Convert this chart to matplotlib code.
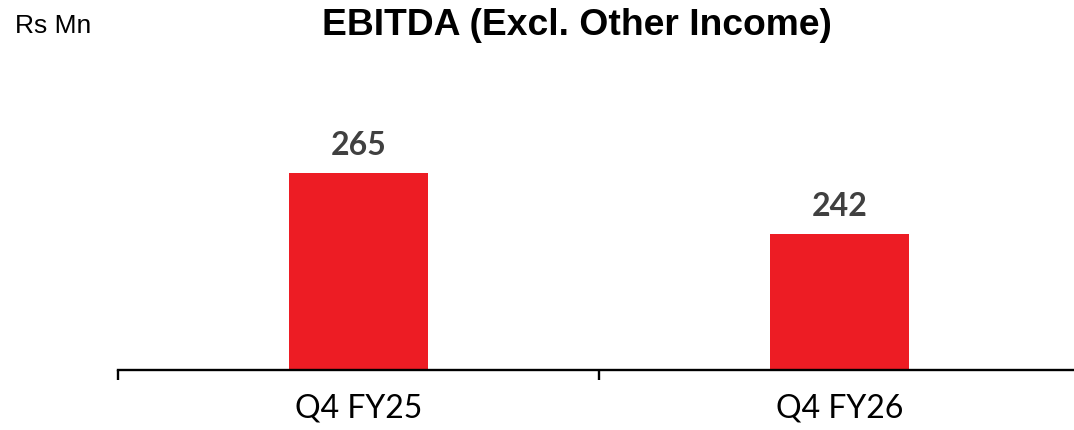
import matplotlib.pyplot as plt

# datos
quarters = ["Q4 FY25", "Q4 FY26"]
ebitda = [265, 242]
labels = ["265", "242"]

fig = plt.figure(figsize=(10.74, 4.30), dpi=100)
ax = fig.add_axes([118 / 1074, 60 / 430, 962 / 1074, 270 / 430])

x = range(len(quarters))
ax.bar(x, ebitda, width=0.289, color='#ED1C24', zorder=2)

ax.set_xlim(-0.5, 1.5)
ax.set_ylim(191, 292.3)

for xi, v, t in zip(x, ebitda, labels):
    ax.annotate(t, (xi, v), xytext=(0, 13), textcoords='offset points',
                ha='center', va='baseline', fontsize=23, fontweight='bold',
                family='Lato', color='#404040')

# ejes
for s in ['top', 'right', 'left']:
    ax.spines[s].set_visible(False)
ax.spines['bottom'].set_linewidth(1.7)
ax.set_yticks([])
ax.set_xticks(list(x))
ax.set_xticklabels(quarters, fontsize=23, family='Lato')
ax.tick_params(axis='x', which='major', length=0, pad=17)
ax.set_xticks([-0.5, 0.5, 1.5], minor=True)
ax.tick_params(axis='x', which='minor', length=7, width=1.7, direction='out')

fig.text(577 / 1074, 1 - 35 / 430, "EBITDA (Excl. Other Income)", ha='center',
         va='baseline', fontsize=26.8, fontweight='bold', family='Liberation Sans')
fig.text(15 / 1074, 1 - 33 / 430, "Rs Mn", ha='left', va='baseline',
         fontsize=19, family='Liberation Sans')

plt.savefig('out.png', dpi=100)
